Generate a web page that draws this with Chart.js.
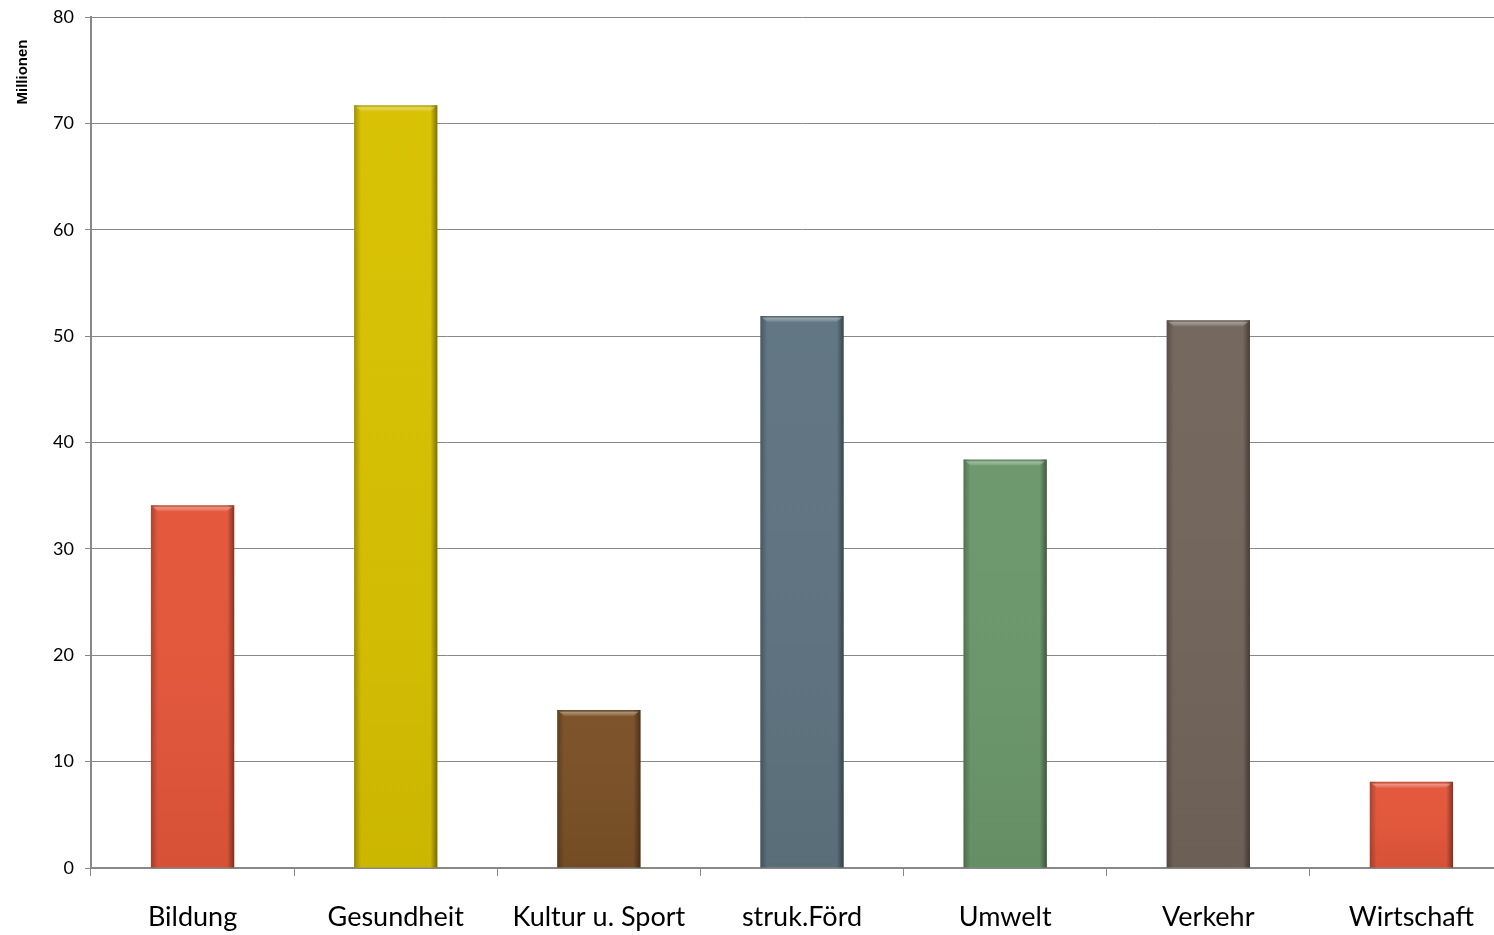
<!DOCTYPE html>
<html>
<head>
<meta charset="utf-8">
<script src="https://cdn.jsdelivr.net/npm/chart.js@4/dist/chart.umd.min.js"></script>
<style>
html,body{margin:0;padding:0;background:#fff;overflow:hidden;}
#wrap{width:1494px;height:935px;position:relative;overflow:hidden;}
</style>
</head>
<body>
<div id="wrap"><canvas id="c" width="1513" height="935"></canvas></div>
<script>
const categories = ["Bildung", "Gesundheit", "Kultur u. Sport", "struk.Förd", "Umwelt", "Verkehr", "Wirtschaft"];
const values = [34.1, 71.7, 14.85, 51.9, 38.4, 51.5, 8.1];
const barColors = ["#e4563a", "#d8c100", "#7a5026", "#5e7480", "#6b976b", "#72655b", "#e4563a"];
const yTitle = "Millionen";

const bevelPlugin = {
  id: 'bevel',
  afterDatasetsDraw(chart) {
    const ctx = chart.ctx;
    const meta = chart.getDatasetMeta(0);
    meta.data.forEach((bar) => {
      const w = bar.width, x0 = bar.x - w / 2, x1 = bar.x + w / 2, top = bar.y, base = bar.base;
      const h = base - top;
      ctx.save();
      let g = ctx.createLinearGradient(0, top, 0, base);
      g.addColorStop(0, 'rgba(255,255,255,0.02)');
      g.addColorStop(1, 'rgba(0,0,0,0.06)');
      ctx.fillStyle = g;
      ctx.fillRect(x0, top, w, h);
      const e = Math.min(7, w * 0.09);
      g = ctx.createLinearGradient(x0, 0, x0 + e, 0);
      g.addColorStop(0, 'rgba(0,0,0,0.25)');
      g.addColorStop(1, 'rgba(0,0,0,0)');
      ctx.fillStyle = g;
      ctx.fillRect(x0, top, e, h);
      g = ctx.createLinearGradient(x1 - e, 0, x1, 0);
      g.addColorStop(0, 'rgba(0,0,0,0)');
      g.addColorStop(1, 'rgba(0,0,0,0.42)');
      ctx.fillStyle = g;
      ctx.fillRect(x1 - e, top, e, h);
      const b = Math.min(6, h / 2);
      ctx.beginPath();
      ctx.moveTo(x0, top);
      ctx.lineTo(x1, top);
      ctx.lineTo(x1 - e, top + b);
      ctx.lineTo(x0 + e, top + b);
      ctx.closePath();
      g = ctx.createLinearGradient(0, top, 0, top + b);
      g.addColorStop(0, 'rgba(0,0,0,0.12)');
      g.addColorStop(0.4, 'rgba(255,255,255,0.35)');
      g.addColorStop(1, 'rgba(255,255,255,0.08)');
      ctx.fillStyle = g;
      ctx.fill();
      ctx.restore();
    });
  }
};

const titlePlugin = {
  id: 'ytitle',
  afterDraw(chart) {
    const ctx = chart.ctx;
    ctx.save();
    ctx.translate(23, 72);
    ctx.rotate(-Math.PI / 2);
    ctx.font = 'bold 15px "Liberation Sans", Arial, sans-serif';
    ctx.fillStyle = '#000';
    ctx.textAlign = 'center';
    ctx.textBaseline = 'middle';
    ctx.fillText(yTitle, 0, 0);
    ctx.restore();
  }
};

new Chart(document.getElementById('c'), {
  type: 'bar',
  data: {
    labels: categories,
    datasets: [{
      data: values,
      backgroundColor: barColors,
      borderWidth: 0,
      barPercentage: 0.82,
      categoryPercentage: 0.5
    }]
  },
  options: {
    responsive: false,
    animation: false,
    devicePixelRatio: 1,
    layout: { padding: { top: 17, right: 0, left: 0, bottom: 0 } },
    plugins: { legend: { display: false }, tooltip: { enabled: false } },
    scales: {
      x: {
        offset: true,
        afterFit(s) { s.height = 67; s.paddingLeft = 0; s.paddingRight = 0; },
        grid: { offset: true, drawOnChartArea: false, drawTicks: true, tickLength: 8, color: '#888', lineWidth: 1 },
        border: { color: '#888', width: 2 },
        ticks: { color: '#000', padding: 25, maxRotation: 0, font: { family: 'Lato, "Open Sans", sans-serif', size: 27 } }
      },
      y: {
        min: 0, max: 80,
        afterFit(s) { s.width = 91; s.paddingTop = 0; s.paddingBottom = 0; },
        grid: { color: '#888', lineWidth: 1, tickLength: 6 },
        border: { color: '#888', width: 2 },
        ticks: { stepSize: 10, color: '#000', padding: 11, font: { family: 'Lato, "Open Sans", sans-serif', size: 18 } }
      }
    }
  },
  plugins: [bevelPlugin, titlePlugin]
});
</script>
</body>
</html>
